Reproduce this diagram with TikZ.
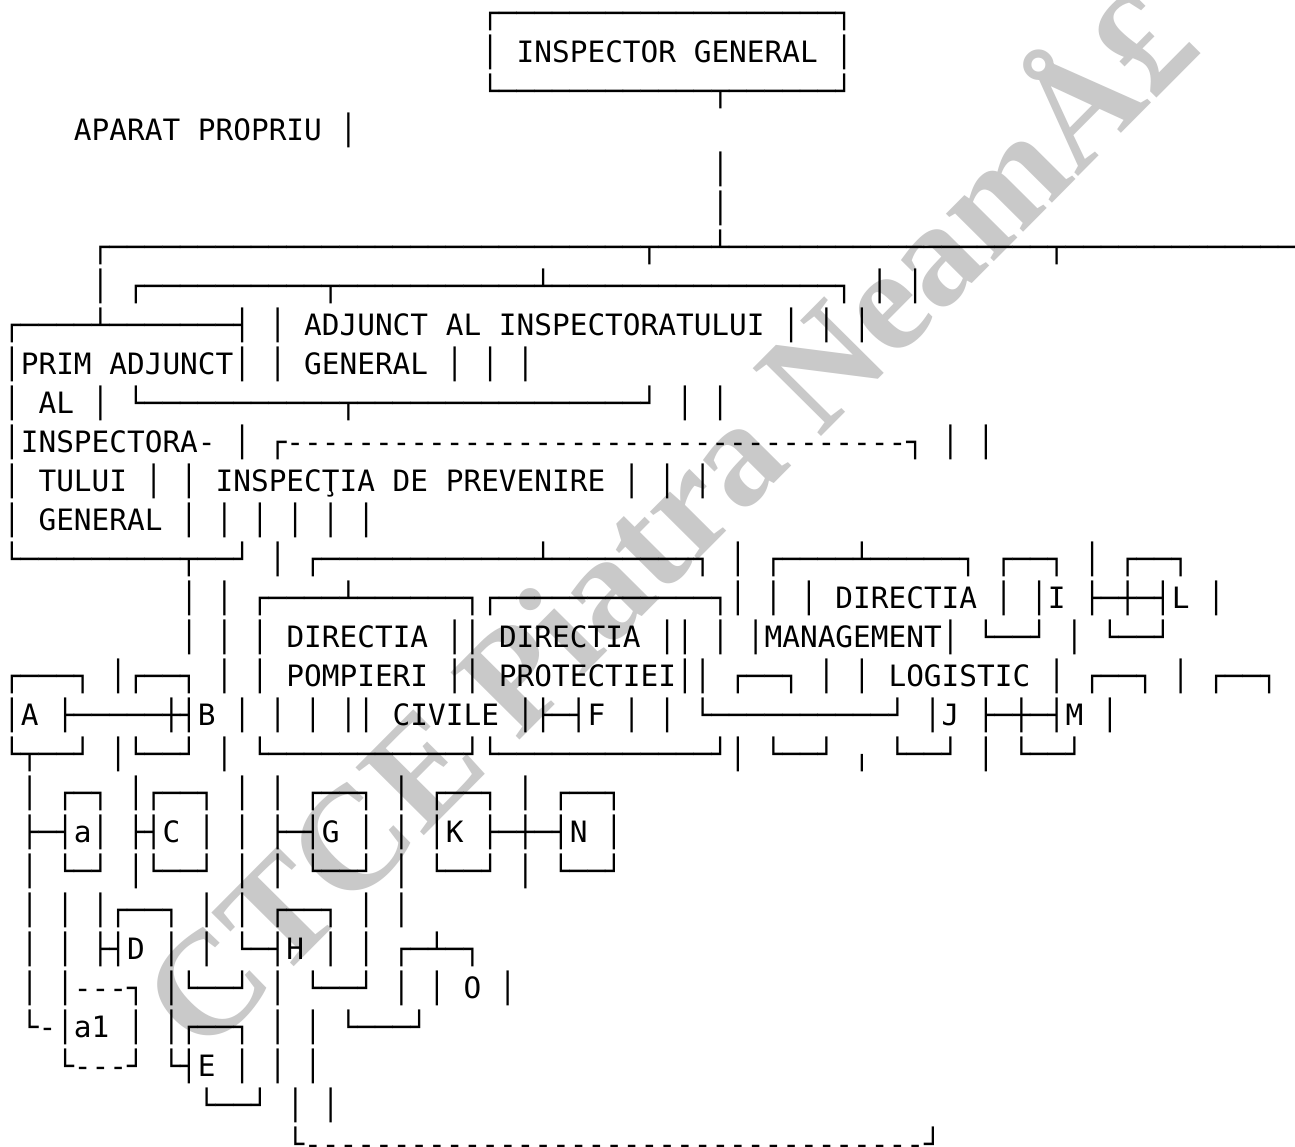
\documentclass[tikz,border=0pt]{standalone}
\usepackage{fontspec}
\newfontfamily\monof{DejaVu Sans Mono}
\newfontfamily\wmf{Liberation Serif}
\newcount\rpcnt
\newcommand\Rp[2]{\rpcnt=#1\relax\loop\ifnum\rpcnt>0 #2\advance\rpcnt-1\relax\repeat}
\newcommand\Hy[1]{\Rp{#1}{\mbox{-}}}
\newcommand\Hl[1]{\Rp{#1}{─}}
\tikzset{
  rowtext/.style={anchor=base west,inner sep=0pt,outer sep=0pt,font=\monof\fontsize{29.416}{39}\selectfont},
  wmark/.style={font=\wmf\bfseries\fontsize{147}{147}\selectfont,text=black!21,rotate=45.2,anchor=base,inner sep=0pt}
}
\newcommand\Row[3]{\node[rowtext] (row#1) at ({3.15+17.71*#2},{-(23.2+39*#1)}) {#3};}
\begin{document}
\begin{tikzpicture}[x=1pt,y=1pt]
\fill[white] (0,0) rectangle (1295,-1147);
\useasboundingbox (0,0) rectangle (1295,-1147);
\node[wmark] (wm) at (704,-554) {CTCE Piatra NeamÅ£};
\Row{0}{27}{┌\Hl{19}┐}
\Row{1}{27}{│ INSPECTOR GENERAL │}
\Row{2}{27}{└\Hl{12}┬\Hl{6}┘}
\Row{3}{4}{APARAT PROPRIU │}
\Row{4}{40}{│}
\Row{5}{40}{│}
\Row{6}{5}{┌\Hl{30}┬\Hl{3}┴\Hl{18}┬\Hl{14}}
\Row{7}{5}{│ ┌\Hl{10}┬\Hl{11}┴\Hl{16}┐ │ │}
\Row{8}{0}{┌\Hl{4}┴\Hl{7}┤ │ ADJUNCT AL INSPECTORATULUI │ │ │}
\Row{9}{0}{│PRIM ADJUNCT│ │ GENERAL │ │ │}
\Row{10}{0}{│ AL │ └\Hl{11}┬\Hl{16}┘ │ │}
\Row{11}{0}{│INSPECTORA- │ ┌\Hy{35}┐ │ │}
\Row{12}{0}{│ TULUI │ │ INSPECŢIA DE PREVENIRE │ │ │}
\Row{13}{0}{│ GENERAL │ │ │ │ │ │}
\Row{14}{0}{└\Hl{9}┬\Hl{2}┘ │ ┌\Hl{12}┴\Hl{8}┐ │ ┌\Hl{4}┴\Hl{5}┐ ┌\Hl{2}┐ │ ┌\Hl{2}┐}
\Row{15}{10}{│ │ ┌\Hl{4}┴\Hl{6}┐┌\Hl{12}┐│ │ │ DIRECTIA │ │I ├─┼─┤L │}
\Row{16}{10}{│ │ │ DIRECTIA ││ DIRECTIA ││ │ │MANAGEMENT│ └──┘ │ └──┘}
\Row{17}{0}{┌───┐ │┌──┐ │ │ POMPIERI ││ PROTECTIEI││ ┌──┐ │ │ LOGISTIC │ ┌──┐ │ ┌──┐}
\Row{18}{0}{│A ├─────┼┤B │ │ │ ││ CIVILE │├─┤F │ │ └\Hl{10}┘ │J ├─┼─┤M │}
\Row{19}{0}{└┬──┘ │└──┘ │ └\Hl{11}┘└\Hl{12}┘│ └──┘ ╷ └──┘ │ └──┘}
\Row{20}{1}{│ ┌─┐ │┌──┐ │ │ ┌──┐ │ ┌──┐ │ ┌──┐}
\Row{21}{1}{├─┤a│ ├┤C │ │ ├─┤G │ │ │K ├─┼─┤N │}
\Row{22}{1}{│ └─┘ │└──┘ │ │ └──┘ │ └──┘ │ └──┘}
\Row{23}{1}{│ │ │┌──┐ │ │ ┌──┐ │ │}
\Row{24}{1}{│ │ ├┤D │ │ └─┤H │ │ ┌─┴─┐}
\Row{25}{1}{│ │\Hy{3}┐ │└──┘ │ └──┘ │ │ O │}
\Row{26}{1}{└-│a1 │ │┌──┐ │ │ └───┘}
\Row{27}{3}{└\Hy{3}┘ └┤E │ │ │}
\Row{28}{11}{└──┘ │ │}
\Row{29}{16}{└\Hy{35}┘}
\end{tikzpicture}
\end{document}
